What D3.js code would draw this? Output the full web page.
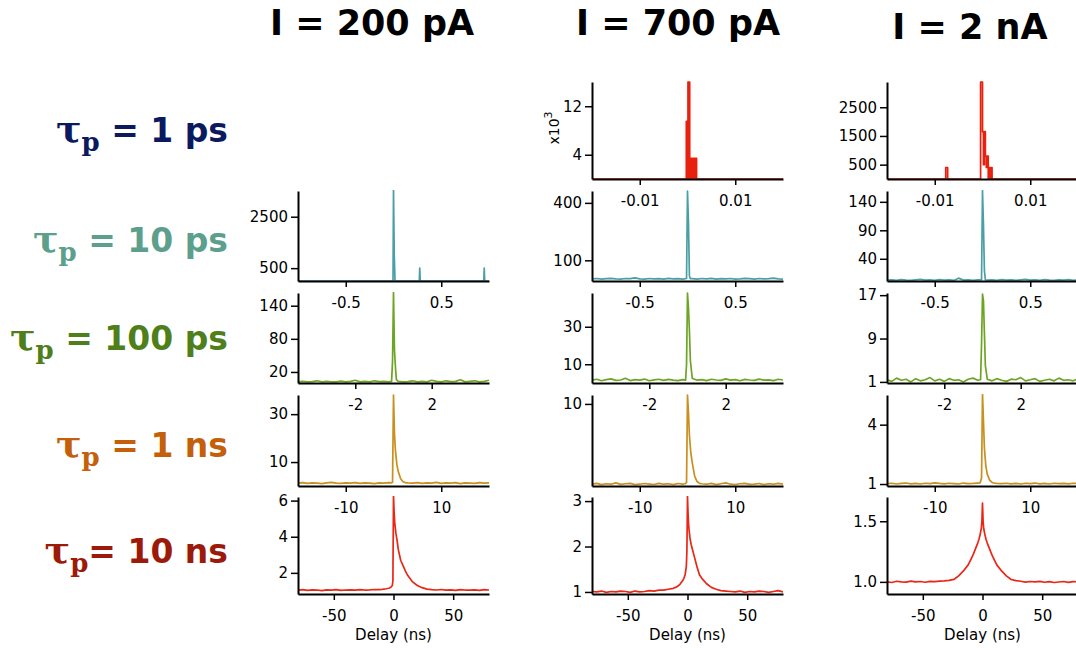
<!DOCTYPE html>
<html><head><meta charset="utf-8">
<script src="https://cdn.jsdelivr.net/npm/d3@7"></script>
<style>body{margin:0;background:#fff}svg{display:block}</style>
</head><body><svg id="c" width="1076" height="648"></svg>
<script>
// ---------- labels ----------
const columnTitles = ["I = 200 pA", "I = 700 pA", "I = 2 nA"];
const rowSuffix = [" = 1 ps", " = 10 ps", " = 100 ps", " = 1 ns", "= 10 ns"];
const rowLabelColors = ["#0b1a5e", "#5c9f8c", "#4f7f1b", "#c45f0b", "#9c1a0a"];
const lineColors = ["#e8200e", "#4a9fa6", "#6ea424", "#c98f1f", "#ea2614"];

// x extent (± ns) and x ticks per row
const xHalf = [0.02, 1, 5, 20, 80];
const xTicksRow = [[-0.01, 0.01], [-0.5, 0.5], [-2, 2], [-10, 10], [-50, 0, 50]];

// y domains & ticks per column (row order: 1ps,10ps,100ps,1ns,10ns)
const yDom_200pA = [null, [0, 3500], [0, 163], [0, 38], [0.83, 6.2]];
const yTicks_200pA = [null, [500, 2500], [20, 80, 140], [10, 30], [2, 4, 6]];
const yDom_700pA = [[0, 16], [-8, 462], [0, 48], [0.8, 11], [0.955, 3.09]];
const yTicks_700pA = [[4, 12], [100, 400], [10, 30], [10], [1, 2, 3]];
const yDom_2nA = [[0, 3380], [1, 159], [0.8, 17.4], [0.9, 5.5], [0.9, 1.7]];
const yTicks_2nA = [[500, 1500, 2500], [40, 90, 140], [1, 9, 17], [1, 4], [1.0, 1.5]];

// ---------- time grids ----------
const t10ns = [-80,-76,-72,-68,-64,-60,-56,-52,-48,-44,-40,-36,-32,-28,-24,
  -20,-16,-12,-10,-8,-6,-4,-3,-2,-1,-0.5,0,0.5,1,2,3,4,6,8,10,12,16,20,
  24,28,32,36,40,44,48,52,56,60,64,68,72,76,80];
const t1ns = [-20,-19,-18,-17,-16,-15,-14,-13,-12,-11,-10,-9,-8,-7,-6,-5,-4,-3,-2,-1,
  -0.5,-0.2,0,0.2,0.4,0.7,1,1.5,2,2.5,3,
  4,5,6,7,8,9,10,11,12,13,14,15,16,17,18,19,20];
const t100ps = [-5,-4.75,-4.5,-4.25,-4,-3.75,-3.5,-3.25,-3,-2.75,-2.5,-2.25,-2,-1.75,-1.5,-1.25,-1,-0.75,-0.5,-0.25,
  -0.1,-0.05,0,0.05,0.1,0.15,
  0.25,0.5,0.75,1,1.25,1.5,1.75,2,2.25,2.5,2.75,3,3.25,3.5,3.75,4,4.25,4.5,4.75,5];
const t10ps = [-1,-0.95,-0.9,-0.85,-0.8,-0.75,-0.7,-0.65,-0.6,-0.55,-0.5,-0.45,-0.4,-0.35,-0.3,-0.25,-0.2,-0.15,-0.1,-0.05,
  -0.01,0,0.01,0.02,0.03,
  0.05,0.1,0.15,0.2,0.25,0.3,0.35,0.4,0.45,0.5,0.55,0.6,0.65,0.7,0.75,0.8,0.85,0.9,0.95,1];
const t10ps_200pA = [-1,-0.005,0,0.008,0.016,0.27,0.275,0.28,0.945,0.95,0.955,1];
const t1ps_700pA = [-0.02,-0.00025,0.0001,0.00046,0.0019,0.02];
const t1ps_2nA = [-0.02,-0.0077,-0.0073,-0.0004,0,0.0002,0.0004,0.0006,0.0008,0.001,0.0012,0.0014,0.0016,0.0018,0.002,0.02];

// ---------- series values ----------
const g10ns_200pA = [1.04,1.07,1.03,1.06,1.05,1.02,1.06,1.04,1.07,1.03,1.05,1.06,1.04,1.07,1.05,
  1.06,1.08,1.07,1.08,1.10,1.12,1.15,1.18,1.22,1.30,1.55,6.3,5.4,4.8,4.2,3.8,3.3,2.7,2.4,2.1,1.85,1.5,1.3,
  1.18,1.10,1.07,1.05,1.08,1.04,1.06,1.03,1.07,1.05,1.04,1.06,1.03,1.07,1.05];
const g10ns_700pA = [1.01,1.00,1.02,0.99,1.01,1.00,1.02,1.01,0.99,1.02,1.00,1.01,1.03,1.02,1.04,
  1.04,1.06,1.08,1.10,1.13,1.18,1.25,1.30,1.38,1.55,1.90,3.1,2.7,2.45,2.2,2.05,1.95,1.75,1.55,1.38,1.30,1.18,1.10,
  1.06,1.03,1.02,1.01,1.00,1.02,0.99,1.01,1.00,1.02,1.01,0.99,1.01,1.03,1.00];
const g10ns_2nA = [1.000,0.995,1.005,1.000,0.998,1.006,1.000,1.003,0.997,1.004,1.002,1.006,1.008,1.012,1.020,
  1.05,1.09,1.14,1.18,1.22,1.27,1.32,1.35,1.39,1.44,1.50,1.65,1.50,1.44,1.39,1.35,1.32,1.27,1.22,1.18,1.14,1.09,1.05,
  1.020,1.010,1.005,0.998,1.003,1.000,1.004,0.997,1.002,0.995,0.999,1.003,0.996,1.002,1.000];

const g1ns_200pA = [1.2,1.4,1.1,1.3,1.2,1.0,1.3,1.5,1.2,1.1,1.3,1.2,1.4,1.1,1.3,1.2,1.0,1.3,1.2,1.4,
  1.3,1.6,38,22,15,9,6,3,1.8,1.4,1.3,
  1.2,1.4,1.1,1.3,1.2,1.5,1.1,1.3,1.2,1.4,1.0,1.3,1.2,1.1,1.4,1.2,1.3];
const g1ns_700pA = [1.0,1.1,0.95,1.05,1.0,1.15,0.98,1.05,1.1,0.95,1.0,1.08,1.02,0.97,1.1,1.0,1.05,0.96,1.08,1.02,
  1.05,1.2,11,9,6.5,4.5,3.4,1.9,1.3,1.1,1.05,
  1.0,1.1,0.95,1.05,1.15,1.0,0.97,1.05,1.1,0.98,1.02,1.08,0.95,1.05,1.0,1.1,1.02];
const g1ns_2nA = [1.02,1.04,1.0,1.03,1.05,1.01,1.03,1.0,1.04,1.02,1.06,1.03,1.01,1.04,1.02,1.0,1.05,1.02,1.03,1.05,
  1.06,1.3,5.6,4.2,2.8,1.9,1.5,1.2,1.08,1.04,1.03,
  1.02,1.04,1.01,1.03,1.0,1.04,1.02,1.05,1.01,1.03,1.0,1.04,1.02,1.03,1.01,1.04,1.02];

const g100ps_200pA = [2,3,2,2.5,4,2,3,2,2,3.5,2,3,5,2,3,2,4,2.5,3,2,
  3,40,165,60,30,6,
  3,2,2.5,4,2,3,2,5,3,2,4,2.5,3,6,2,3,4,2,3,5];
const g100ps_700pA = [1.5,2,1.2,1.8,2.2,1.4,1.6,2.5,1.3,1.8,1.5,2.1,1.2,1.7,2,1.4,1.9,1.5,1.3,1.8,
  1.5,10,48,40,28,12,
  2.5,1.5,1.8,1.3,2,1.6,1.4,2.2,1.5,1.8,1.2,1.9,1.6,1.4,2.1,1.5,1.7,1.3,2,1.6];
const g100ps_2nA = [1.4,1.1,1.7,1.3,1.5,1.0,1.6,1.2,1.4,1.8,1.2,1.5,1.1,1.6,1.3,1.4,1.0,1.5,1.7,1.3,
  1.4,8,17.2,16,10,4,
  1.5,1.2,1.6,1.3,1.1,1.5,1.4,1.8,1.2,1.4,1.6,1.1,1.3,1.5,1.2,1.7,1.3,1.4,1.2,1.6];

const g10ps_200pA = [0,0,3600,1000,0,0,500,0,0,500,0,0];
const g10ps_700pA = [3,5,2,4,6,3,2,5,4,8,3,2,5,3,4,2,6,3,4,2,
  5,462,300,20,4,
  4,2,5,3,6,2,4,3,5,2,3,6,4,2,5,3,4,7,3,2];
const g10ps_2nA = [2.5,3,2,3.5,2.5,2,3,4,2.5,3,2,3.5,2.5,3,2,6,2.5,3,2,3,
  3,160,100,19,3,
  2.5,3,2,3.5,2.5,3,2,3,4,2.5,3,2,3.5,2.5,2,3,2.5,3.5,2,3];

const g1ps_700pA = [0,9.5,16,3.4,0,0];          // x10^3 counts
const g1ps_2nA = [0,400,0,3380,1650,500,1650,800,400,800,0,400,0,400,0,0];

// ---------- panel table ----------
const panels = [
  {col:1,row:0,t:t1ps_700pA,v:g1ps_700pA,step:true,area:true},
  {col:2,row:0,t:t1ps_2nA,v:g1ps_2nA,step:true},
  {col:0,row:1,t:t10ps_200pA,v:g10ps_200pA},
  {col:1,row:1,t:t10ps,v:g10ps_700pA},
  {col:2,row:1,t:t10ps,v:g10ps_2nA},
  {col:0,row:2,t:t100ps,v:g100ps_200pA},
  {col:1,row:2,t:t100ps,v:g100ps_700pA},
  {col:2,row:2,t:t100ps,v:g100ps_2nA},
  {col:0,row:3,t:t1ns,v:g1ns_200pA},
  {col:1,row:3,t:t1ns,v:g1ns_700pA},
  {col:2,row:3,t:t1ns,v:g1ns_2nA},
  {col:0,row:4,t:t10ns,v:g10ns_200pA},
  {col:1,row:4,t:t10ns,v:g10ns_700pA},
  {col:2,row:4,t:t10ns,v:g10ns_2nA}
];
const yDomCols = [yDom_200pA, yDom_700pA, yDom_2nA];
const yTickCols = [yTicks_200pA, yTicks_700pA, yTicks_2nA];

// ---------- layout ----------
const svg = d3.select("#c");
const colLeft = [298, 592, 887], plotW = 191;
const rowTop = [82, 191, 293, 395, 497], rowBot = [179, 281, 383, 486, 594];
const tickFont = "DejaVu Sans";
const defs = svg.append("defs");
const plain = d => String(d);

panels.forEach((p, k) => {
  const x = d3.scaleLinear().domain([-xHalf[p.row], xHalf[p.row]])
      .range([colLeft[p.col], colLeft[p.col] + plotW]);
  const y = d3.scaleLinear().domain(yDomCols[p.col][p.row])
      .range([rowBot[p.row], rowTop[p.row]]);
  const id = "clip" + k;
  defs.append("clipPath").attr("id", id).append("rect")
    .attr("x", x.range()[0]).attr("y", rowTop[p.row] - 1)
    .attr("width", plotW).attr("height", rowBot[p.row] - rowTop[p.row] + 1);
  const g = svg.append("g");
  const curve = p.step ? d3.curveStepAfter : d3.curveLinear;
  const data = p.v.map((v, i) => [p.t[i], v]);
  if (p.area) {
    g.append("path").datum(data).attr("clip-path", `url(#${id})`)
      .attr("fill", lineColors[p.row])
      .attr("d", d3.area().x(d => x(d[0])).y0(y(0)).y1(d => y(d[1])).curve(curve));
  }
  g.append("path").datum(data).attr("clip-path", `url(#${id})`)
    .attr("fill", "none").attr("stroke", lineColors[p.row])
    .attr("stroke-width", 1.7).attr("stroke-linejoin", "round")
    .attr("d", d3.line().x(d => x(d[0])).y(d => y(d[1])).curve(curve));

  // axes
  const fmt = (p.col === 2 && p.row === 4) ? d3.format(".1f") : plain;
  const ya = svg.append("g").attr("transform", `translate(${x.range()[0]},0)`)
    .call(d3.axisLeft(y).tickValues(yTickCols[p.col][p.row]).tickFormat(fmt)
      .tickSize(7).tickSizeOuter(0).tickPadding(3));
  const xa = svg.append("g").attr("transform", `translate(0,${rowBot[p.row]})`)
    .call(d3.axisBottom(x).tickValues(xTicksRow[p.row]).tickFormat(plain)
      .tickSize(6).tickSizeOuter(0).tickPadding(10));
  [ya, xa].forEach(a => {
    a.select(".domain").attr("stroke", "#000").attr("stroke-width", 2);
    a.selectAll(".tick line").attr("stroke", "#000").attr("stroke-width", 1.5);
    a.selectAll(".tick text").attr("font-family", tickFont).attr("font-size", 15).attr("fill", "#000");
  });
});

// Delay labels
colLeft.forEach(l => {
  svg.append("text").attr("x", l + plotW / 2).attr("y", 640)
    .attr("text-anchor", "middle").attr("font-family", tickFont).attr("font-size", 15)
    .text("Delay (ns)");
});

// x10^3 label
const ex = svg.append("text").attr("transform", "translate(559,128) rotate(-90)")
  .attr("text-anchor", "middle").attr("font-family", tickFont).attr("font-size", 14);
ex.append("tspan").text("x10");
ex.append("tspan").attr("dy", -7).attr("font-size", 11).text("3");

// column titles
const titleX = [372, 678, 970], titleY = [35, 35, 39];
columnTitles.forEach((t, i) => {
  svg.append("text").attr("x", titleX[i]).attr("y", titleY[i]).attr("text-anchor", "middle")
    .attr("font-family", "DejaVu Sans").attr("font-weight", "bold").attr("font-size", 35)
    .text(t);
});

// row labels
const rowLabelY = [142, 252, 350, 457, 563];
rowSuffix.forEach((s, i) => {
  const tx = svg.append("text").attr("x", 228).attr("y", rowLabelY[i]).attr("text-anchor", "end")
    .attr("font-family", "DejaVu Sans").attr("font-weight", "bold").attr("font-size", 33)
    .attr("fill", rowLabelColors[i]);
  tx.append("tspan").attr("font-family", "DejaVu Serif").attr("font-size", 38).text("τ");
  tx.append("tspan").attr("font-family", "DejaVu Serif").attr("font-size", 26).attr("dy", 9).text("p");
  tx.append("tspan").attr("dy", -9).text(s);
});
</script></body></html>
